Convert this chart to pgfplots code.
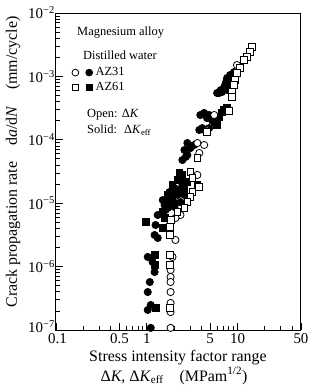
\documentclass[border=0pt]{standalone}
\usepackage{fontspec}
\setmainfont{Liberation Serif}
\usepackage{pgfplots}
\pgfplotsset{compat=1.18}
\pgfplotstableread{
x y
9.14 1.17e-3
8.69 9.78e-4
8.27 1.05e-3
7.67 9.44e-4
7.47 8.1e-4
8.06 7.87e-4
7.29 7.31e-4
7.11 6.56e-4
6.60 6.1e-4
6.27 5.47e-4
5.96 5.47e-4
6.76 5.68e-4
6.50 6.0e-4
7.90 8.5e-4
3.89 2.46e-4
4.29 2.65e-4
4.87 2.46e-4
4.62 2.2e-4
5.26 2.0e-4
3.79 1.43e-4
4.29 1.43e-4
4.09 1.53e-4
4.87 1.53e-4
2.80 8.90e-5
3.34 8.28e-5
3.02 7.4e-5
2.60 6.90e-5
2.47 4.80e-5
2.70 5.4e-5
2.80 5.76e-5
3.00 7.5e-5
2.02 1.74e-5
2.18 1.35e-5
1.83 1.21e-5
1.70 1.04e-5
1.57 9.37e-6
1.70 8.40e-6
2.02 8.71e-6
2.35 1.04e-5
2.60 1.35e-5
2.20 1.6e-5
1.90 1.0e-5
1.78 1.50e-5
1.92 1.12e-5
2.07 1.0e-5
2.18 1.61e-5
2.47 1.94e-5
1.61 7.81e-6
1.50 1.12e-5
1.32 6.51e-6
1.25 4.53e-6
1.22 3.15e-6
1.32 2.83e-6
1.025 1.42e-6
1.16 1.18e-6
1.22 8.22e-7
1.08 5.71e-7
1.025 3.97e-7
1.106 2.48e-7
1.025 2.07e-7
1.106 1.08e-7
}\azthreeonefilled
\pgfplotstableread{
x y
8.27 6.10e-4
7.60 8.0e-4
7.11 2.95e-4
6.76 2.7e-4
7.67 3.2e-4
6.27 2.29e-4
5.67 1.91e-4
5.96 1.71e-4
2.29 2.99e-5
2.35 2.32e-5
2.80 2.16e-5
3.61 1.94e-5
2.00 1.5e-5
1.92 1.94e-5
2.18 2.32e-5
2.47 2.79e-5
2.60 1.61e-5
1.70 1.35e-5
1.50 7.26e-6
0.975 5.05e-6
1.57 5.84e-6
1.50 4.06e-6
1.22 1.52e-6
1.22 1.06e-6
1.25 2.22e-7
}\azsixonefilled
\pgfplotstableread{
x y
9.86 1.51e-3
5.53 2.46e-4
4.62 1.40e-4
3.61 8.90e-5
4.29 8.28e-5
3.79 6.19e-5
3.61 2.79e-5
2.35 6.51e-6
2.07 5.84e-6
2.07 2.63e-6
1.92 1.42e-6
1.83 8.84e-7
1.83 6.86e-7
1.83 5.71e-7
1.83 3.97e-7
1.83 2.67e-7
1.83 1.92e-7
1.83 1.08e-7
}\azthreeoneopen
\pgfplotstableread{
x y
14.4 2.91e-3
13.7 2.43e-3
12.69 2.02e-3
11.76 1.81e-3
10.63 1.36e-3
9.86 1.13e-3
9.37 8.77e-4
9.14 7.31e-4
8.69 5.68e-4
8.69 4.73e-4
8.06 2.85e-4
4.62 1.33e-4
3.61 5.16e-5
3.02 3.10e-5
3.18 2.50e-5
3.79 1.80e-5
3.18 1.50e-5
3.02 1.25e-5
2.80 1.04e-5
2.60 8.40e-6
2.18 7.26e-6
1.83 5.43e-6
1.78 4.21e-6
1.78 3.15e-6
1.78 1.52e-6
1.78 1.06e-6
1.78 2.22e-7
}\azsixoneopen
\begin{document}
\begin{tikzpicture}
\path[use as bounding box] (-56bp,-60bp) rectangle (253bp,330bp);
\begin{axis}[
  scale only axis, width=245bp, height=317bp,
  at={(0,0)}, anchor=south west,
  xmode=log, ymode=log,
  xmin=0.1, xmax=50, ymin=1e-7, ymax=1e-2,
  tick pos=left, tick align=inside,
  xtick={0.1,0.5,1,5,10,50},
  xticklabels={\hspace*{3bp}0.1,0.5,1,5,10,50},
  minor xtick={0.2,0.3,0.4,0.6,0.7,0.8,0.9,2,3,4,6,7,8,9,20,30,40},
  ytick={1e-7,1e-6,1e-5,1e-4,1e-3,1e-2},
  yticklabels={\raisebox{7bp}{10\textsuperscript{−7}},10\textsuperscript{−6},10\textsuperscript{−5},10\textsuperscript{−4},10\textsuperscript{−3},10\textsuperscript{−2}},
  minor ytick={2e-7,3e-7,4e-7,5e-7,6e-7,7e-7,8e-7,9e-7,2e-6,3e-6,4e-6,5e-6,6e-6,7e-6,8e-6,9e-6,2e-5,3e-5,4e-5,5e-5,6e-5,7e-5,8e-5,9e-5,2e-4,3e-4,4e-4,5e-4,6e-4,7e-4,8e-4,9e-4,2e-3,3e-3,4e-3,5e-3,6e-3,7e-3,8e-3,9e-3},
  major tick length=7bp, minor tick length=4bp,
  axis line style={line width=1bp},
  every tick/.style={black, line width=0.8bp},
  /pgf/number format/assume math mode=true,
  ticklabel style={font=\fontsize{15}{15}\selectfont},
  yticklabel style={inner xsep=1bp},
  legend columns=2,
  legend style={draw=none, fill=none, at={(0.0645,0.828)}, anchor=north west, inner sep=0bp, column sep=3bp, row sep=5bp, nodes={inner sep=0bp, font=\fontsize{12.5}{13}\selectfont}},
  legend image code/.code={\draw[#1] plot coordinates {(0bp,0bp)};},
]
\addlegendimage{only marks, mark=*, mark size=3.4bp, line width=0.8bp, mark options={fill=white}}
\addlegendentry{\mbox{}}
\addlegendimage{only marks, mark=*, mark size=3.4bp, line width=0.8bp}
\addlegendentry{AZ31}
\addlegendimage{only marks, mark=square*, mark size=3.2bp, line width=0.8bp, mark options={fill=white}}
\addlegendentry{\mbox{}}
\addlegendimage{only marks, mark=square*, mark size=3.2bp, line width=0.8bp}
\addlegendentry{AZ61}
\addplot[forget plot, only marks, mark=*, mark size=3.6bp, line width=0.8bp, black, mark options={fill=black}] table {\azthreeonefilled};
\addplot[forget plot, only marks, mark=square*, mark size=3.4bp, line width=0.8bp, black, mark options={fill=black}] table {\azsixonefilled};
\addplot[forget plot, only marks, mark=*, mark size=3.6bp, line width=0.8bp, black, mark options={fill=white}] table {\azthreeoneopen};
\addplot[forget plot, only marks, mark=square*, mark size=3.4bp, line width=0.8bp, black, mark options={fill=white}] table {\azsixoneopen};
\end{axis}
\begin{scope}[every node/.style={font=\fontsize{12.5}{13}\selectfont, inner sep=0bp, anchor=west}]
\node at (21bp,297bp) {Magnesium alloy};
\node at (27bp,275bp) {Distilled water};
\node at (31bp,215bp) {Open: Δ\textit{K}};
\node at (31bp,200bp) {Solid: \ Δ\textit{K}\textsubscript{eff}};
\end{scope}
\node[font=\fontsize{16}{16}\selectfont, inner sep=0bp] at (122bp,-28bp) {Stress intensity factor range};
\node[font=\fontsize{16}{16}\selectfont, inner sep=0bp] at (118bp,-46bp) {Δ\textit{K}, Δ\textit{K}\textsubscript{eff}\quad(MPam\textsuperscript{1/2})};
\node[font=\fontsize{16}{16}\selectfont, inner sep=0bp, rotate=90] at (-43bp,168bp) {Crack propagation rate\quad d\textit{a}/d\textit{N}\quad(mm/cycle)};
\end{tikzpicture}
\end{document}
